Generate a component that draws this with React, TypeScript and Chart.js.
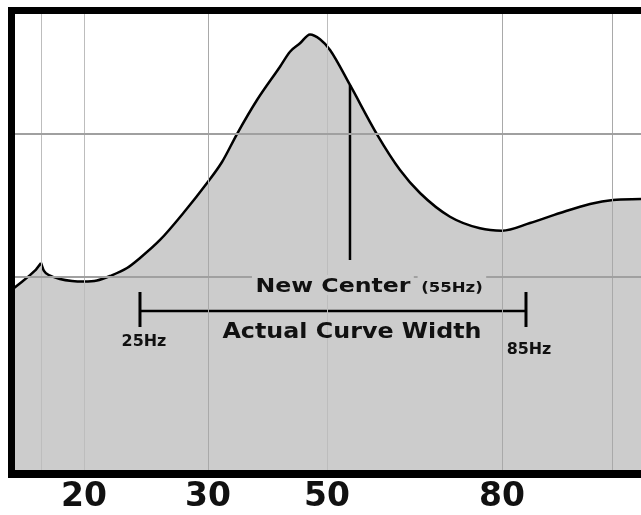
import React, { useEffect, useRef, useState } from 'react';
import { Chart, registerables } from 'chart.js';

Chart.register(...registerables);

// Frequency axis is a schematic (non-proportional) axis:
// x values are positions along it, 0 = left frame, 100 = right edge.
const gridPositions = [4.69, 11.52, 31.22, 50.12, 77.92, 95.55, 100];
const tickLabels = ['', '20', '30', '50', '80', '', ''];
const gridShades = ['#bdbdbd', '#bdbdbd', '#a9a9a9', '#bdbdbd', '#a9a9a9', '#a9a9a9', '#bdbdbd'];

// Level axis (0 = bottom frame, 100 = top frame); 100 is the top frame line
const levelGrid = [42.5, 73.35, 100];

// Response curve, part left of the small cusp
const leftX = [0, 1.67, 2.94, 3.89, 4.69];
const leftY = [39.7, 41.5, 42.9, 44.1, 45.5];

// Response curve, main part
const curveX = [4.69, 5.16, 6.12, 7.7, 9.61, 11.52, 13.58, 15.65, 18.35, 20.41, 23.59, 27.56, 31.06, 33.44, 35.82, 39.0, 42.65, 44.24, 45.83, 47.42, 49.01, 50.6, 53.77, 58.06, 61.72, 64.89, 69.66, 74.42, 77.92, 82.37, 87.13, 91.9, 95.55, 100];
const curveY = [45.52, 43.8, 42.83, 42.07, 41.64, 41.53, 41.75, 42.72, 44.44, 46.6, 50.49, 56.74, 62.78, 67.31, 73.35, 80.69, 87.87, 91.11, 92.92, 94.82, 93.79, 91.48, 83.93, 73.29, 65.59, 60.63, 55.51, 53.01, 52.49, 54.15, 56.31, 58.25, 59.12, 59.33];

// Markers: new centre (55Hz) and actual curve width (25Hz .. 85Hz)
const centerMarker = [53.77, 83.93, 46.17]; // x, top, bottom
const widthBar = [20.41, 81.73, 35.17]; // from (25Hz), to (85Hz), level
const widthTicks = [39.27, 31.72]; // end tick top, bottom

const FONT = '"DejaVu Sans", Verdana, sans-serif';
const FILL = '#cccccc';

type Lbl = { text: string; x: number; y: number; size: number; width: number; bg?: boolean };
const labels: Lbl[] = [
  { text: 'New Center', x: 51.07, y: 39.2, size: 20, width: 154, bg: true },
  { text: '(55Hz)', x: 69.98, y: 39.2, size: 14, width: 60, bg: true },
  { text: 'Actual Curve Width', x: 54.09, y: 29.13, size: 21, width: 258 },
  { text: '25Hz', x: 21.05, y: 27.46, size: 15, width: 44 },
  { text: '85Hz', x: 82.13, y: 25.83, size: 15, width: 45 },
];

type Pos = { left: number; base: number; s: number };

// Fills the area under the two curve datasets (index 0 and 1) down to level 0,
// following the line elements that Chart.js built for them.
const areaFill = {
  id: 'areaFill',
  beforeDatasetsDraw(chart: any) {
    const { ctx, chartArea } = chart;
    const ys = chart.scales.y;
    const base = ys.getPixelForValue(0);
    ctx.save();
    ctx.beginPath();
    ctx.rect(chartArea.left, chartArea.top, chartArea.right - chartArea.left, chartArea.bottom - chartArea.top);
    ctx.clip();
    ctx.fillStyle = FILL;
    for (const i of [0, 1]) {
      const meta = chart.getDatasetMeta(i);
      const line = meta && meta.dataset;
      const pts = meta && meta.data;
      if (!line || !pts || !pts.length) continue;
      if (typeof line.updateControlPoints === 'function') line.updateControlPoints(chartArea, 'x');
      ctx.beginPath();
      if (typeof line.path === 'function') {
        line.path(ctx);
      } else {
        ctx.moveTo(pts[0].x, pts[0].y);
        for (let k = 1; k < pts.length; k++) ctx.lineTo(pts[k].x, pts[k].y);
      }
      ctx.lineTo(pts[pts.length - 1].x, base);
      ctx.lineTo(pts[0].x, base);
      ctx.closePath();
      ctx.fill();
    }
    ctx.restore();
  },
};

export default function App() {
  const ref = useRef<HTMLCanvasElement | null>(null);
  const [pos, setPos] = useState<Pos[]>([]);
  useEffect(() => {
    if (!ref.current) return;
    const mk = (xs: number[], ys: number[]) => xs.map((x, i) => ({ x, y: ys[i] }));
    const mark = (data: any[], w: number) => ({
      data,
      order: 0,
      borderColor: '#000',
      borderWidth: w,
      backgroundColor: '#000',
      fill: false,
      pointRadius: 0,
      tension: 0,
    });
    const chart = new Chart(ref.current, {
      type: 'line',
      data: {
        datasets: [
          { data: mk(leftX, leftY), order: 1, borderColor: '#000', borderWidth: 2.5, backgroundColor: FILL, fill: false, pointRadius: 0 },
          { data: mk(curveX, curveY), order: 1, borderColor: '#000', borderWidth: 2.5, backgroundColor: FILL, fill: false, pointRadius: 0, cubicInterpolationMode: 'monotone' },
          mark(mk([centerMarker[0], centerMarker[0]], [centerMarker[1], centerMarker[2]]), 2.5),
          mark(mk([widthBar[0], widthBar[1]], [widthBar[2], widthBar[2]]), 2.5),
          mark(mk([widthBar[0], widthBar[0]], widthTicks), 3),
          mark(mk([widthBar[1], widthBar[1]], widthTicks), 3),
        ],
      },
      options: {
        animation: false,
        responsive: false,
        events: [],
        layout: { padding: { left: 11.5, top: 10.5, right: 0, bottom: 0 } },
        plugins: { legend: { display: false }, tooltip: { enabled: false }, filler: { propagate: false } },
        scales: {
          x: {
            type: 'linear',
            position: 'bottom',
            min: 0,
            max: 100,
            afterBuildTicks: (s: any) => {
              s.ticks = gridPositions.map((v) => ({ value: v }));
            },
            afterFit: (s: any) => {
              s.height = 41;
            },
            ticks: {
              autoSkip: false,
              maxRotation: 0,
              padding: 0,
              color: '#111',
              font: { size: 33, weight: 'bold', family: FONT, lineHeight: 1.43 },
              callback: (_v: any, i: number) => tickLabels[i],
            },
            grid: {
              z: 1,
              drawTicks: false,
              lineWidth: 1,
              color: (c: any) => gridShades[c.index] || '#a9a9a9',
            },
            border: { z: 2, color: '#000', width: 8 },
          },
          y: {
            type: 'linear',
            position: 'left',
            min: 0,
            max: 100,
            afterBuildTicks: (s: any) => {
              s.ticks = levelGrid.map((v) => ({ value: v }));
            },
            ticks: { display: false },
            grid: {
              z: 1,
              drawTicks: false,
              lineWidth: (c: any) => (c.tick && c.tick.value === 100 ? 7 : 2),
              color: (c: any) => (c.tick && c.tick.value === 100 ? '#000' : '#a0a0a0'),
            },
            border: { z: 2, color: '#000', width: 7 },
          },
        },
      } as any,
      plugins: [areaFill],
    });
    const xs: any = chart.scales.x;
    const ys: any = chart.scales.y;
    const m = document.createElement('canvas').getContext('2d') as CanvasRenderingContext2D;
    setPos(
      labels.map((l) => {
        m.font = `bold ${l.size}px ${FONT}`;
        const t = m.measureText(l.text);
        const vis = t.actualBoundingBoxLeft + t.actualBoundingBoxRight || t.width;
        return { left: xs.getPixelForValue(l.x), base: ys.getPixelForValue(l.y), s: l.width / vis };
      })
    );
    return () => chart.destroy();
  }, []);
  return (
    <div style={{ position: 'fixed', left: 0, top: 0, width: 641, height: 515, background: '#fff', overflow: 'hidden' }}>
      <canvas ref={ref} width={641} height={515} style={{ display: 'block', width: 641, height: 515 }} />
      {pos.map((p, i) => {
        const l = labels[i];
        const extra = l.bg && l.size < 18 ? 5 : 0;
        return (
          <span
            key={l.text}
            style={{
              position: 'absolute',
              left: p.left,
              top: p.base - 0.846 * l.size - extra,
              paddingTop: extra,
              paddingLeft: l.bg ? 3 : 0,
              paddingRight: l.bg ? 3 : 0,
              fontFamily: FONT,
              fontWeight: 'bold',
              fontSize: l.size,
              lineHeight: `${l.size}px`,
              whiteSpace: 'nowrap',
              color: '#111',
              background: l.bg ? FILL : 'transparent',
              transform: `translateX(-50%) scaleX(${p.s})`,
            }}
          >
            {l.text}
          </span>
        );
      })}
    </div>
  );
}
